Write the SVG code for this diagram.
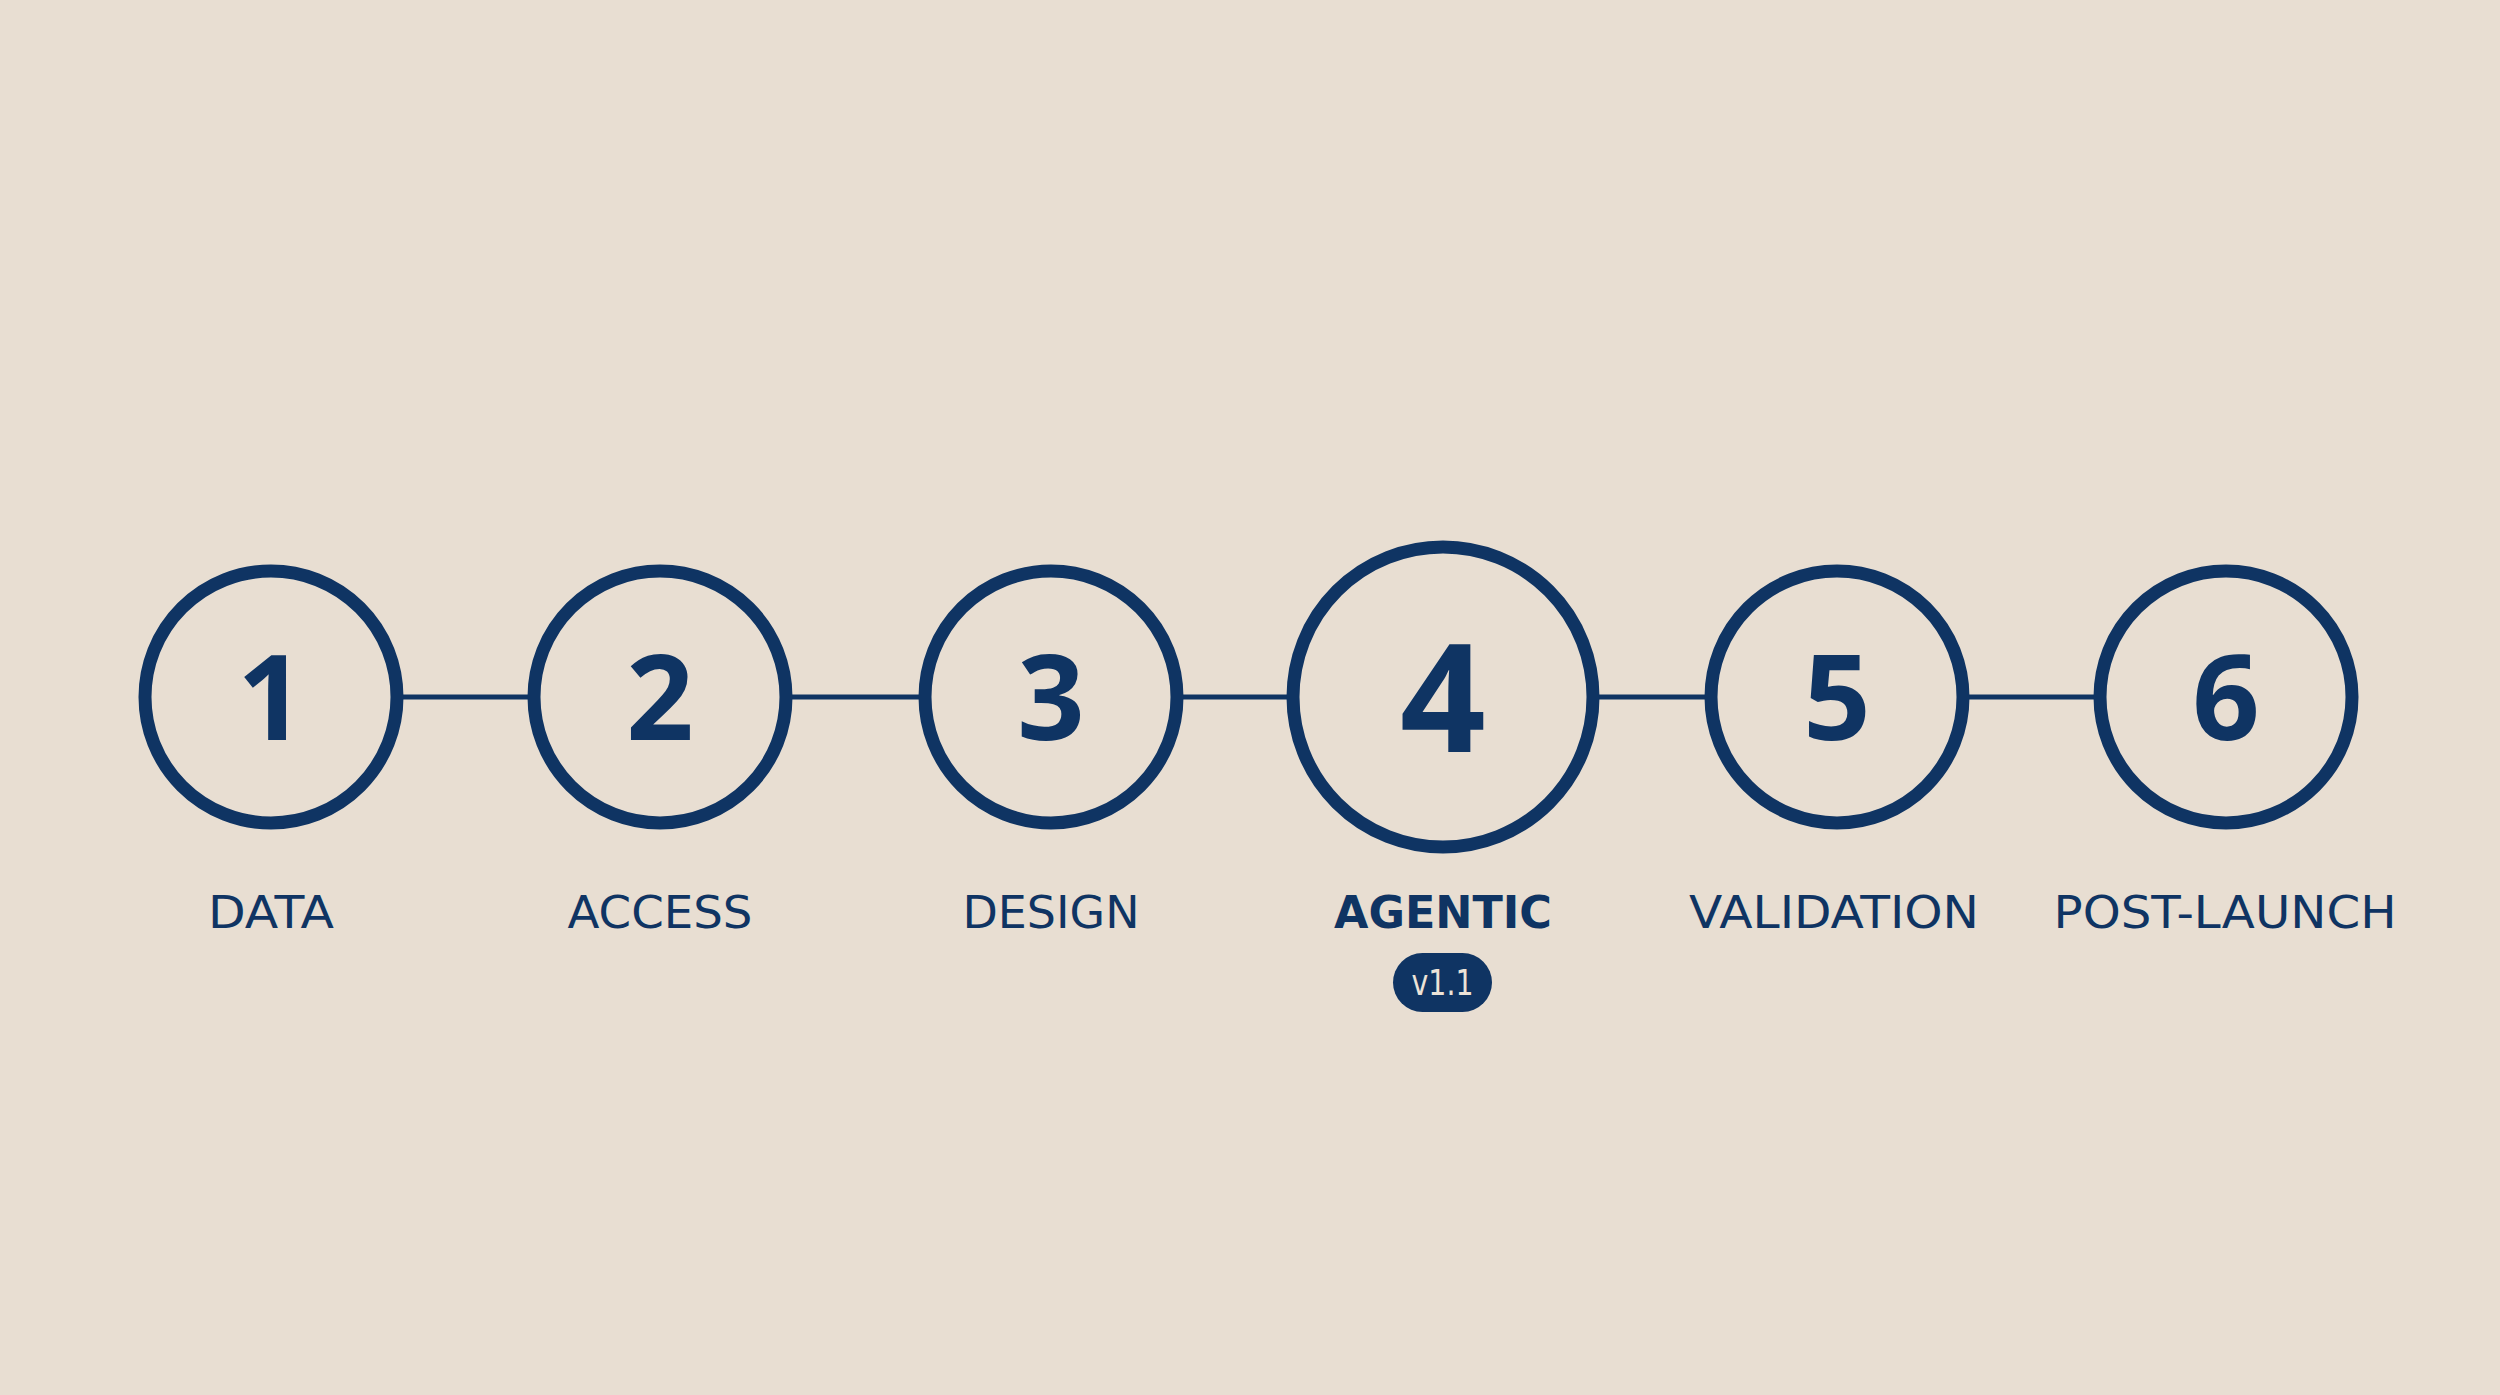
<svg xmlns="http://www.w3.org/2000/svg" width="2500" height="1395" viewBox="0 0 2500 1395">
<style>
.ring{fill:none;stroke:#0f3463;stroke-width:13}
.conn{stroke:#0f3463;stroke-width:5;fill:none}
.num{font-family:"Noto Sans","DejaVu Sans",sans-serif;font-weight:700;font-size:118px;fill:#0f3463;text-anchor:middle}
.lbl{font-family:"DejaVu Sans","Noto Sans",sans-serif;font-weight:400;font-size:45px;fill:#0f3463;text-anchor:middle}
.bold{font-weight:700}
.badge{fill:#0f3463}
.btxt{font-family:"DejaVu Sans","Noto Sans",sans-serif;font-size:36px;fill:#ece3d8;text-anchor:middle}
</style>
<rect width="2500" height="1395" fill="#e8ded2"/>
<g id="connectors">
<line class="conn" x1="403" y1="697" x2="528" y2="697"/>
<line class="conn" x1="792" y1="697" x2="919" y2="697"/>
<line class="conn" x1="1183" y1="697" x2="1287" y2="697"/>
<line class="conn" x1="1599" y1="697" x2="1705" y2="697"/>
<line class="conn" x1="1969" y1="697" x2="2094" y2="697"/>
</g>
<g id="node1">
<circle class="ring" cx="271" cy="697" r="126"/>
<text class="num" x="271" y="740">1</text>
<text class="lbl" x="271" y="928" textLength="126" lengthAdjust="spacingAndGlyphs">DATA</text>
</g>
<g id="node2">
<circle class="ring" cx="660" cy="697" r="126"/>
<text class="num" x="660" y="740">2</text>
<text class="lbl" x="660" y="928" textLength="185" lengthAdjust="spacingAndGlyphs">ACCESS</text>
</g>
<g id="node3">
<circle class="ring" cx="1051" cy="697" r="126"/>
<text class="num" x="1051" y="740">3</text>
<text class="lbl" x="1051" y="928" textLength="177" lengthAdjust="spacingAndGlyphs">DESIGN</text>
</g>
<g id="node4">
<circle class="ring" cx="1443" cy="697" r="150"/>
<text class="num" x="1443" y="752" style="font-size:150px">4</text>
<text class="lbl bold" x="1443" y="928" textLength="218" lengthAdjust="spacingAndGlyphs">AGENTIC</text>
<rect class="badge" x="1393" y="953" width="99" height="59" rx="29.5"/>
<text class="btxt" x="1442.5" y="995" textLength="62" lengthAdjust="spacingAndGlyphs">v1.1</text>
</g>
<g id="node5">
<circle class="ring" cx="1837" cy="697" r="126"/>
<text class="num" x="1837" y="740">5</text>
<text class="lbl" x="1834" y="928" textLength="290" lengthAdjust="spacingAndGlyphs">VALIDATION</text>
</g>
<g id="node6">
<circle class="ring" cx="2226" cy="697" r="126"/>
<text class="num" x="2226" y="740">6</text>
<text class="lbl" x="2225" y="928" textLength="343" lengthAdjust="spacingAndGlyphs">POST-LAUNCH</text>
</g>
</svg>
